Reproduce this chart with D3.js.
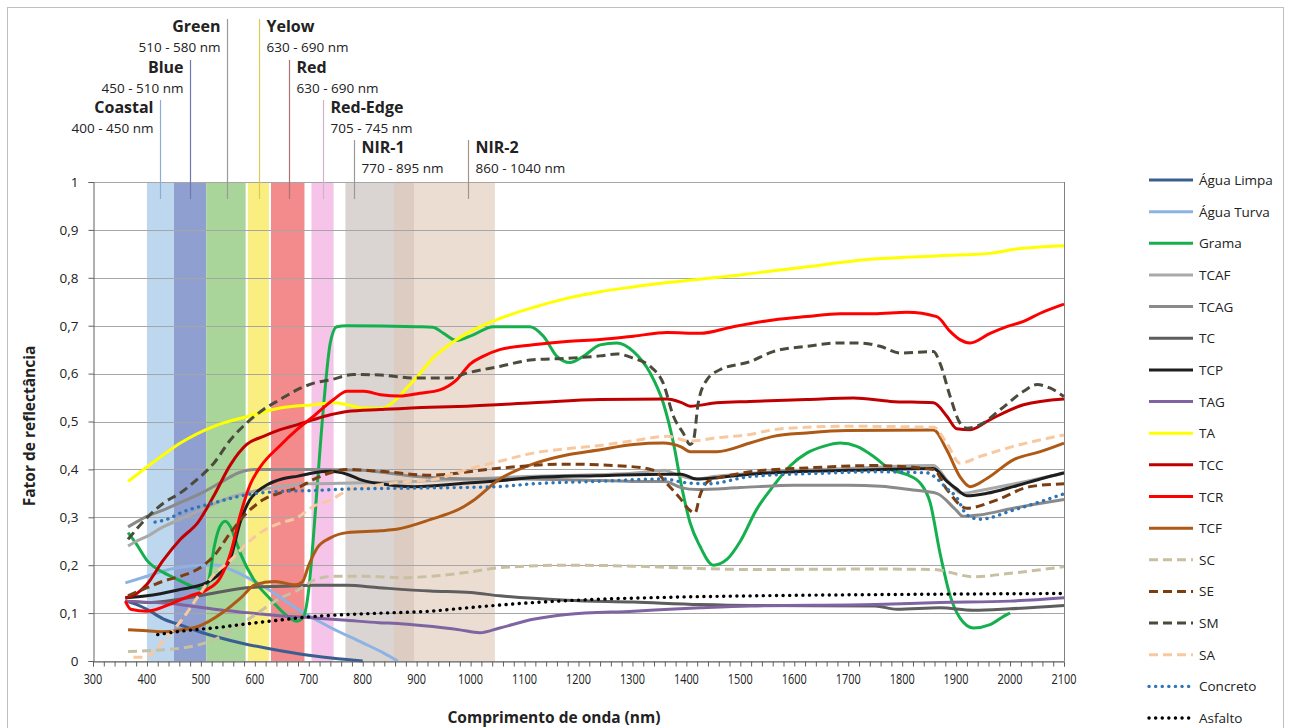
<!DOCTYPE html>
<html>
<head>
<meta charset="utf-8">
<script src="https://cdn.jsdelivr.net/npm/d3@7"></script>
<style>
body{margin:0;background:#fff}
svg{display:block}
text{font-family:"Open Sans","Noto Sans",sans-serif;fill:#222}
</style>
</head>
<body>
<svg id="graphique" width="1289" height="728"></svg>
<script>

// bandas espectrais (WorldView)
var bandNames  = ["Coastal","Blue","Green","Yelow","Red","Red-Edge","NIR-1","NIR-2"];
var bandLabels = ["400 - 450 nm","450 - 510 nm","510 - 580 nm","630 - 690 nm","630 - 690 nm","705 - 745 nm","770 - 895 nm","860 - 1040 nm"];
var bandStart  = [400,450,510,587,630,705,768,858];
var bandEnd    = [450,510,583,626,692,746,895,1045];
var bandMark   = [425,480,548,607,663,726,784,995];

var xTicks = [300,400,500,600,700,800,900,1000,1100,1200,1300,1400,1500,1600,1700,1800,1900,2000,2100];
var yTicks = [0,0.1,0.2,0.3,0.4,0.5,0.6,0.7,0.8,0.9,1];

// curvas [nm, reflectancia]
var aguaLimpa = [[360,0.126],[380,0.118],[400,0.108],[430,0.088],[460,0.076],[500,0.06],[530,0.05],[580,0.036],[620,0.027],[650,0.021],[700,0.012],[750,0.005],[800,0]];
var aguaTurva = [[360,0.163],[400,0.177],[430,0.188],[460,0.195],[500,0.2],[530,0.2],[555,0.191],[590,0.172],[620,0.153],[680,0.108],[740,0.07],[800,0.038],[840,0.016],[865,0]];
var grama = [[365,0.268],[380,0.245],[400,0.21],[430,0.185],[450,0.174],[480,0.158],[505,0.15],[515,0.17],[525,0.24],[535,0.28],[545,0.292],[555,0.28],[565,0.25],[575,0.22],[598,0.17],[629,0.129],[660,0.094],[678,0.083],[690,0.092],[700,0.15],[708,0.25],[716,0.37],[728,0.54],[740,0.665],[752,0.698],[770,0.7],[900,0.698],[930,0.697],[950,0.684],[974,0.669],[1005,0.681],[1042,0.698],[1110,0.698],[1135,0.678],[1160,0.636],[1184,0.623],[1209,0.636],[1240,0.66],[1271,0.664],[1302,0.646],[1333,0.601],[1357,0.539],[1376,0.455],[1391,0.365],[1407,0.288],[1425,0.24],[1450,0.2],[1475,0.212],[1500,0.25],[1530,0.316],[1561,0.365],[1592,0.407],[1623,0.434],[1654,0.448],[1685,0.455],[1716,0.448],[1747,0.427],[1778,0.4],[1809,0.389],[1833,0.372],[1852,0.33],[1870,0.226],[1889,0.136],[1907,0.09],[1932,0.069],[1963,0.076],[1994,0.097],[2000,0.1]];
var tcaf = [[365,0.24],[380,0.25],[400,0.26],[430,0.28],[460,0.295],[500,0.315],[550,0.34],[600,0.355],[650,0.365],[700,0.37],[800,0.372],[900,0.375],[1000,0.38],[1100,0.385],[1200,0.388],[1300,0.392],[1360,0.398],[1380,0.39],[1420,0.38],[1450,0.385],[1500,0.39],[1600,0.398],[1700,0.402],[1800,0.407],[1858,0.408],[1885,0.375],[1910,0.35],[1940,0.355],[2000,0.368],[2050,0.38],[2100,0.392]];
var tcag = [[365,0.28],[380,0.29],[400,0.302],[430,0.315],[460,0.33],[500,0.35],[540,0.375],[570,0.393],[600,0.4],[700,0.4],[800,0.398],[850,0.392],[900,0.385],[1000,0.38],[1100,0.38],[1200,0.378],[1300,0.375],[1360,0.375],[1390,0.362],[1420,0.358],[1500,0.362],[1600,0.367],[1700,0.367],[1760,0.365],[1820,0.357],[1864,0.35],[1900,0.315],[1913,0.302],[1944,0.305],[2006,0.319],[2100,0.337]];
var tc = [[360,0.125],[400,0.122],[460,0.129],[525,0.142],[585,0.153],[650,0.156],[710,0.158],[770,0.158],[830,0.153],[925,0.146],[1000,0.143],[1054,0.136],[1178,0.127],[1302,0.123],[1425,0.118],[1518,0.116],[1750,0.115],[1790,0.108],[1870,0.111],[1932,0.106],[2000,0.109],[2100,0.116]];
var tcp = [[360,0.132],[400,0.136],[460,0.149],[510,0.163],[536,0.184],[555,0.215],[573,0.29],[590,0.335],[606,0.355],[623,0.368],[650,0.38],[680,0.386],[710,0.393],[740,0.396],[771,0.39],[800,0.377],[833,0.37],[895,0.364],[1000,0.372],[1048,0.376],[1116,0.383],[1234,0.387],[1357,0.39],[1390,0.39],[1419,0.38],[1460,0.383],[1518,0.39],[1600,0.395],[1700,0.398],[1858,0.402],[1883,0.375],[1900,0.36],[1920,0.345],[1957,0.35],[2006,0.364],[2056,0.38],[2100,0.393]];
var tag = [[360,0.125],[460,0.118],[525,0.108],[585,0.101],[650,0.094],[710,0.09],[770,0.085],[830,0.08],[870,0.078],[930,0.072],[980,0.065],[1017,0.059],[1054,0.069],[1116,0.087],[1178,0.097],[1302,0.104],[1425,0.111],[1518,0.115],[1750,0.118],[1870,0.122],[2000,0.125],[2100,0.132]];
var ta = [[365,0.375],[400,0.405],[430,0.43],[462,0.455],[524,0.49],[585,0.51],[647,0.528],[709,0.535],[746,0.539],[771,0.535],[800,0.528],[833,0.527],[864,0.548],[880,0.568],[900,0.592],[930,0.632],[960,0.66],[993,0.684],[1054,0.715],[1116,0.738],[1178,0.757],[1240,0.771],[1301,0.781],[1364,0.79],[1425,0.797],[1500,0.806],[1623,0.823],[1747,0.839],[1870,0.846],[1963,0.851],[2012,0.86],[2100,0.867]];
var tcc = [[360,0.132],[380,0.14],[400,0.16],[430,0.21],[462,0.254],[495,0.29],[524,0.345],[555,0.41],[585,0.452],[616,0.469],[647,0.483],[678,0.493],[709,0.504],[740,0.514],[771,0.521],[833,0.525],[925,0.53],[993,0.532],[1116,0.539],[1240,0.546],[1364,0.547],[1390,0.54],[1407,0.532],[1456,0.539],[1518,0.542],[1623,0.546],[1710,0.549],[1778,0.542],[1858,0.539],[1883,0.511],[1901,0.485],[1926,0.483],[1963,0.504],[2025,0.535],[2100,0.547]];
var tcr = [[360,0.125],[370,0.108],[400,0.104],[450,0.122],[480,0.136],[511,0.149],[536,0.174],[555,0.225],[573,0.305],[592,0.37],[610,0.405],[647,0.45],[678,0.483],[709,0.511],[746,0.546],[771,0.563],[802,0.563],[833,0.556],[869,0.553],[906,0.559],[943,0.566],[974,0.587],[999,0.62],[1023,0.636],[1054,0.65],[1116,0.66],[1178,0.667],[1240,0.671],[1302,0.678],[1364,0.686],[1425,0.684],[1487,0.698],[1561,0.712],[1623,0.719],[1685,0.725],[1747,0.725],[1809,0.728],[1864,0.719],[1889,0.688],[1907,0.671],[1926,0.664],[1963,0.684],[1994,0.698],[2025,0.709],[2056,0.726],[2100,0.745]];
var tcf = [[365,0.065],[400,0.063],[433,0.061],[470,0.066],[495,0.072],[539,0.1],[576,0.134],[600,0.159],[637,0.166],[675,0.159],[688,0.165],[700,0.2],[715,0.235],[740,0.257],[771,0.268],[833,0.272],[863,0.275],[925,0.295],[987,0.322],[1005,0.335],[1054,0.38],[1110,0.409],[1178,0.43],[1234,0.44],[1302,0.452],[1357,0.455],[1390,0.447],[1407,0.437],[1456,0.437],[1518,0.455],[1561,0.469],[1623,0.476],[1697,0.481],[1858,0.482],[1883,0.44],[1907,0.385],[1926,0.364],[1957,0.381],[2006,0.42],[2056,0.437],[2100,0.455]];
var sc = [[365,0.02],[464,0.027],[526,0.045],[588,0.087],[650,0.133],[680,0.148],[712,0.17],[746,0.177],[800,0.177],[870,0.174],[993,0.185],[1054,0.195],[1178,0.2],[1302,0.198],[1425,0.193],[1518,0.191],[1750,0.192],[1858,0.191],[1932,0.176],[2000,0.183],[2100,0.197]];
var se = [[365,0.136],[400,0.153],[431,0.167],[462,0.177],[493,0.191],[524,0.219],[555,0.268],[585,0.309],[616,0.337],[647,0.351],[678,0.361],[709,0.379],[740,0.393],[771,0.4],[833,0.396],[925,0.388],[1048,0.402],[1172,0.411],[1296,0.406],[1340,0.398],[1364,0.37],[1388,0.34],[1405,0.316],[1416,0.309],[1425,0.345],[1440,0.375],[1487,0.389],[1518,0.395],[1623,0.403],[1747,0.408],[1858,0.4],[1883,0.358],[1920,0.319],[1975,0.336],[2037,0.364],[2100,0.37]];
var sm = [[365,0.254],[400,0.299],[431,0.33],[462,0.351],[493,0.379],[524,0.413],[555,0.462],[585,0.497],[616,0.525],[647,0.546],[678,0.566],[709,0.58],[740,0.587],[783,0.598],[833,0.597],[895,0.591],[962,0.591],[993,0.601],[1054,0.615],[1116,0.629],[1178,0.632],[1240,0.637],[1271,0.641],[1302,0.632],[1333,0.615],[1357,0.58],[1376,0.511],[1394,0.476],[1407,0.452],[1413,0.46],[1422,0.539],[1438,0.587],[1462,0.608],[1518,0.625],[1561,0.646],[1623,0.657],[1685,0.664],[1716,0.664],[1759,0.657],[1796,0.643],[1858,0.646],[1870,0.622],[1889,0.552],[1907,0.497],[1920,0.486],[1944,0.493],[1982,0.525],[2025,0.563],[2050,0.577],[2074,0.57],[2100,0.552]];
var sa = [[375,0.008],[396,0.008],[430,0.042],[464,0.085],[495,0.135],[524,0.18],[555,0.21],[585,0.245],[616,0.272],[647,0.288],[678,0.299],[709,0.323],[740,0.336],[771,0.355],[833,0.368],[895,0.376],[931,0.379],[993,0.4],[1054,0.417],[1116,0.434],[1178,0.443],[1240,0.45],[1302,0.46],[1364,0.469],[1407,0.459],[1456,0.466],[1518,0.473],[1561,0.483],[1623,0.488],[1697,0.49],[1858,0.488],[1883,0.454],[1907,0.413],[1944,0.427],[2006,0.448],[2100,0.472]];
var concreto = [[415,0.29],[440,0.297],[462,0.309],[524,0.33],[585,0.347],[647,0.354],[709,0.356],[771,0.359],[900,0.361],[1048,0.364],[1116,0.37],[1234,0.375],[1357,0.38],[1400,0.372],[1440,0.37],[1518,0.385],[1650,0.392],[1747,0.395],[1845,0.393],[1864,0.381],[1883,0.36],[1900,0.343],[1920,0.305],[1944,0.296],[2006,0.315],[2100,0.349]];
var asfalto = [[420,0.055],[462,0.062],[495,0.066],[524,0.069],[588,0.078],[650,0.086],[709,0.093],[771,0.097],[833,0.1],[925,0.104],[993,0.111],[1116,0.122],[1240,0.129],[1364,0.133],[1518,0.136],[1800,0.139],[2100,0.141]];

// series: nom, donnees, couleur, type de trait
var series = [
	{nom:"Água Limpa", data:aguaLimpa, couleur:"#3b5e92", trait:"solid"},
	{nom:"Água Turva", data:aguaTurva, couleur:"#8db3e2", trait:"solid"},
	{nom:"Grama", data:grama, couleur:"#14b04e", trait:"solid"},
	{nom:"TCAF", data:tcaf, couleur:"#a9a9a9", trait:"solid"},
	{nom:"TCAG", data:tcag, couleur:"#8a8a8a", trait:"solid"},
	{nom:"TC", data:tc, couleur:"#5e5e5e", trait:"solid"},
	{nom:"TCP", data:tcp, couleur:"#1e1e1e", trait:"solid"},
	{nom:"TAG", data:tag, couleur:"#8064a2", trait:"solid"},
	{nom:"TA", data:ta, couleur:"#ffff00", trait:"solid"},
	{nom:"TCC", data:tcc, couleur:"#c00000", trait:"solid"},
	{nom:"TCR", data:tcr, couleur:"#ff0000", trait:"solid"},
	{nom:"TCF", data:tcf, couleur:"#ae5a17", trait:"solid"},
	{nom:"SC", data:sc, couleur:"#c8c0a0", trait:"dash"},
	{nom:"SE", data:se, couleur:"#7a3e12", trait:"dash"},
	{nom:"SM", data:sm, couleur:"#4b4b3c", trait:"dash"},
	{nom:"SA", data:sa, couleur:"#f8c9a0", trait:"dash"},
	{nom:"Concreto", data:concreto, couleur:"#2e75b6", trait:"dot"},
	{nom:"Asfalto", data:asfalto, couleur:"#000000", trait:"dot"}
];

var bandFill = ["#bdd7ee","#8f9fcf","#a9d59a","#faee80","#f38a8c","#f5c4e8","#c2b8b6","#dfc7b5"];
var bandLine = ["#8eaad8","#6f78b0","#9a9a9a","#dccb55","#b07070","#d4b2cc","#9a9a9a","#a69585"];
var bandNameY = [114,74,33,33,74,114,154,154];

var graphique = d3.select("#graphique");
var MARGINS = {top:182, right:1064, bottom:661, left:93};

var xScale = d3.scaleLinear().domain([300,2100]).range([MARGINS.left, MARGINS.right]);
var yScale = d3.scaleLinear().domain([0,1]).range([MARGINS.bottom, MARGINS.top]);

// cadre exterieur
graphique.append("rect")
	.attr("x",7.5).attr("y",7.5).attr("width",1276).attr("height",740)
	.attr("fill","none").attr("stroke","#bfbfbf");

//// bandes
bandNames.forEach(function(nom, i){
	var nir = i >= 6;
	graphique.append("rect")
		.attr("x", xScale(bandStart[i]))
		.attr("y", yScale(1))
		.attr("width", xScale(bandEnd[i]) - xScale(bandStart[i]))
		.attr("height", yScale(0) - yScale(1))
		.attr("fill", bandFill[i])
		.attr("fill-opacity", nir ? 0.6 : 1);
});

//// grille
graphique.append("g").selectAll("line").data(yTicks).enter().append("line")
	.attr("x1", MARGINS.left).attr("x2", MARGINS.right)
	.attr("y1", function(d){ return Math.round(yScale(d)) + 0.5; })
	.attr("y2", function(d){ return Math.round(yScale(d)) + 0.5; })
	.attr("stroke", "#a6a6a6").attr("stroke-width", 1);

graphique.append("line")
	.attr("x1", MARGINS.right + 0.5).attr("x2", MARGINS.right + 0.5)
	.attr("y1", MARGINS.top).attr("y2", MARGINS.bottom)
	.attr("stroke", "#808080");

//// marqueurs + etiquettes des bandes
bandNames.forEach(function(nom, i){
	var xm = Math.round(xScale(bandMark[i])) + 0.5;
	var droite = i >= 3;
	graphique.append("line")
		.attr("x1", xm).attr("x2", xm)
		.attr("y1", bandNameY[i] - 14).attr("y2", 199)
		.attr("stroke", bandLine[i]).attr("stroke-width", 1.2);
	var tx = droite ? xm + 7 : xm - 7;
	var anchor = droite ? "start" : "end";
	graphique.append("text")
		.attr("x", tx).attr("y", bandNameY[i] - 1)
		.attr("text-anchor", anchor)
		.attr("font-size", 16).attr("font-weight", "bold")
		.text(nom);
	graphique.append("text")
		.attr("x", tx).attr("y", bandNameY[i] + 18.5)
		.attr("text-anchor", anchor)
		.attr("font-size", 13.5)
		.text(bandLabels[i]);
});

//// courbes
var line = d3.line()
	.x(function(d){ return xScale(d[0]); })
	.y(function(d){ return yScale(d[1]); })
	.curve(d3.curveMonotoneX);

function dashOf(trait){
	if(trait == "dash") return "9,5";
	if(trait == "dot") return "0.1,6.5";
	return null;
}

series.forEach(function(s){
	graphique.append("path")
		.attr("d", line(s.data))
		.attr("fill", "none")
		.attr("stroke", s.couleur)
		.attr("stroke-width", s.trait == "dot" ? 3.4 : 3)
		.attr("stroke-linecap", s.trait == "dot" ? "round" : "butt")
		.attr("stroke-linejoin", "round")
		.attr("stroke-dasharray", dashOf(s.trait));
});

//// axes
var xAxis = d3.axisBottom(xScale).tickValues(d3.range(300, 2101, 20)).tickSize(5).tickFormat("");
graphique.append("g")
	.attr("transform", "translate(0," + (MARGINS.bottom + 0.5) + ")")
	.call(xAxis)
	.call(function(g){ g.selectAll("line,path").attr("stroke", "#606060"); });

graphique.append("g").selectAll("text").data(xTicks).enter().append("text")
	.attr("x", function(d){ return xScale(d); })
	.attr("y", 684)
	.attr("text-anchor", "middle")
	.attr("font-size", 14)
	.attr("transform", function(d){ return "translate(" + xScale(d) + ",0) scale(0.78,1) translate(" + (-xScale(d)) + ",0)"; })
	.text(function(d){ return d; });

var yAxis = d3.axisLeft(yScale).tickValues(yTicks).tickSize(5)
	.tickFormat(function(d){ return d3.format(".1~f")(d).replace(".", ","); });
graphique.append("g")
	.attr("transform", "translate(" + (MARGINS.left + 0.5) + ",0)")
	.call(yAxis)
	.call(function(g){
		g.selectAll("line,path").attr("stroke", "#606060");
		g.selectAll("text").attr("font-size", 13.5).attr("fill", "#222").attr("x", -15)
			.style("font-family", "'Open Sans',sans-serif");
	});

//// titres
graphique.append("text")
	.attr("x", 554).attr("y", 723)
	.attr("text-anchor", "middle")
	.attr("font-size", 15.5).attr("font-weight", "bold")
	.text("Comprimento de onda (nm)");

graphique.append("text")
	.attr("transform", "translate(35,426) rotate(-90)")
	.attr("text-anchor", "middle")
	.attr("font-size", 15.5).attr("font-weight", "bold")
	.text("Fator de reflectância");

//// legende
var legende = graphique.append("g");
series.forEach(function(s, i){
	var ly = 180 + i * 31.65;
	legende.append("line")
		.attr("x1", 1149).attr("x2", 1193)
		.attr("y1", ly).attr("y2", ly)
		.attr("stroke", s.couleur)
		.attr("stroke-width", s.trait == "dot" ? 3.4 : 3)
		.attr("stroke-linecap", s.trait == "dot" ? "round" : "butt")
		.attr("stroke-dasharray", dashOf(s.trait));
	legende.append("text")
		.attr("x", 1199).attr("y", ly + 5)
		.attr("font-size", 13.5)
		.text(s.nom);
});

</script>
</body>
</html>
